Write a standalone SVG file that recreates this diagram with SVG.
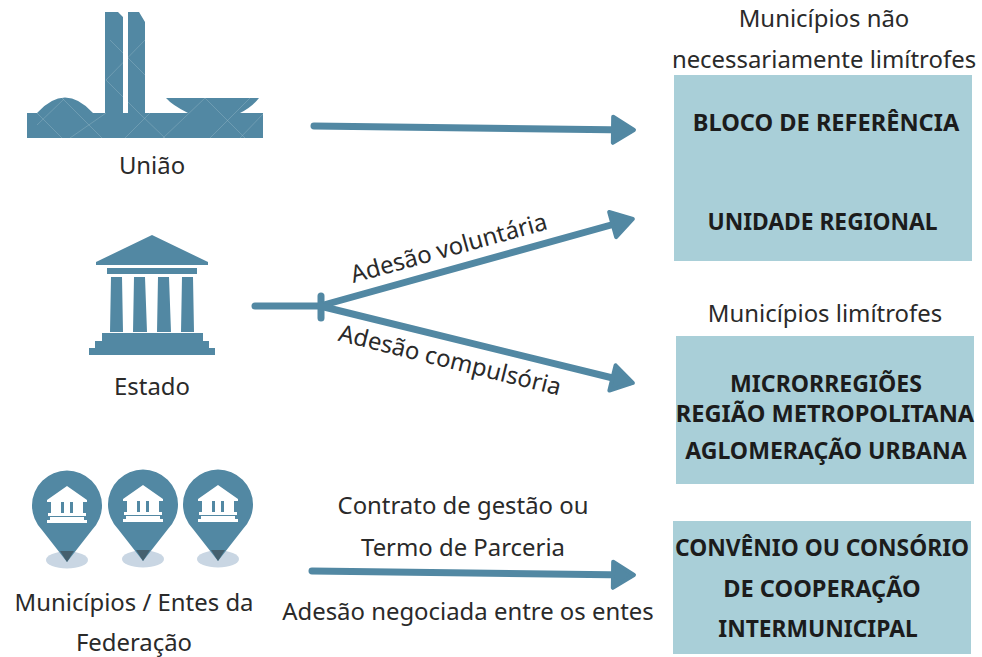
<svg xmlns="http://www.w3.org/2000/svg" width="982" height="657" viewBox="0 0 982 657">
<style>
text{font-family:"Noto Sans","Open Sans",sans-serif;font-size:23.9px;fill:#2a2a2a;text-anchor:middle}
.b{font-weight:700;font-size:23.6px;fill:#1c1c1c}
.s{font-size:22.8px}
.m{font-size:23.1px}
.box{fill:#a9cfd8}
.ic{fill:#5288a3}
.ln{fill:none;stroke:#5288a3;stroke-width:7;stroke-linecap:round}
.wm{fill:none;stroke:#9dbccb;stroke-width:.7;opacity:.55}
</style>
<defs>
<marker id="ah" markerUnits="userSpaceOnUse" markerWidth="30" markerHeight="34" refX="20" refY="17" orient="auto"><path d="M3 4L24 17L3 30Z" fill="#5288a3" stroke="#5288a3" stroke-width="4" stroke-linejoin="round"/></marker>
<clipPath id="uc"><path d="M27 113H37Q65 82 93 113H105V12H118L123 17V113H128V12H139L145 22V113H188Q172 105 166 98H259Q252 107 240 113H263V138H27Z"/></clipPath>
<g id="pin">
<ellipse cx="0" cy="55" rx="21" ry="8.5" fill="#c9d6e3"/>
<path d="M0 57L-25 25A35 35 0 1 1 25 25Z" class="ic"/>
<path d="M-7 46L7 46L0 57Z" fill="#45606e"/>
<path d="M0 -19L20 -5V-3H16V8H19V11H-19V8H-16V-3H-20V-5ZM-6 -3V8H-3V-3ZM3 -3V8H6V-3ZM-17 12H17V15H20V18H-20V15H-17Z" fill="#fff" fill-rule="evenodd"/>
</g>
</defs>
<g id="connectors">
<path class="ln" d="M314 126L630 130" marker-end="url(#ah)"/>
<path class="ln" d="M255 306H320"/>
<path class="ln" d="M321 296V318"/>
<path class="ln" d="M320 306L629 220" marker-end="url(#ah)"/>
<path class="ln" d="M320 306L629 382" marker-end="url(#ah)"/>
<path class="ln" d="M312 571L630 575" marker-end="url(#ah)"/>
</g>
<g id="uniao">
<path class="ic" d="M27 113H37Q65 82 93 113H105V12H118L123 17V113H128V12H139L145 22V113H188Q172 105 166 98H259Q252 107 240 113H263V138H27Z"/>
<path class="wm" clip-path="url(#uc)" d="M37 113L62 138M62 98L102 138M110 40L150 80M106 80L140 114M140 114L165 138M205 98L163 138M205 98L245 138M250 98L210 138M264 113L240 138M145 40L106 80M106 113L70 138M64 99L37 125M150 113L125 138"/>
<text x="152" y="174">União</text>
</g>
<g id="estado">
<path class="ic" d="M152 235L208 262V265H96V262ZM107 268H197V274H107ZM111 277H122L123 332H110ZM134 277H145L147 332H133ZM158 277H169L171 332H157ZM182 277H193L194 332H181ZM102 333H203V341H209V348H215V355H89V348H95V341H102Z"/>
<text x="152" y="395">Estado</text>
</g>
<g id="municipios">
<use href="#pin" x="67" y="505"/>
<use href="#pin" x="143" y="504"/>
<use href="#pin" x="218" y="504"/>
<text x="134" y="611">Municípios / Entes da</text>
<text x="134" y="651">Federação</text>
</g>
<g id="label-voluntaria"><text transform="translate(451 256) rotate(-15.5)">Adesão voluntária</text></g>
<g id="label-compulsoria"><text transform="translate(448 368) rotate(14)">Adesão compulsória</text></g>
<g id="label-contrato">
<text x="463" y="514">Contrato de gestão ou</text>
<text x="463" y="556">Termo de Parceria</text>
<text x="468" y="620">Adesão negociada entre os entes</text>
</g>
<g id="bloco">
<text x="824" y="27">Municípios não</text>
<text x="824" y="68">necessariamente limítrofes</text>
<rect class="box" x="674" y="75" width="298" height="186"/>
<text class="b" x="826" y="131">BLOCO DE REFERÊNCIA</text>
<text class="b s" x="822.5" y="230">UNIDADE REGIONAL</text>
</g>
<g id="micro">
<text x="825" y="322">Municípios limítrofes</text>
<rect class="box" x="676" y="336" width="298" height="148"/>
<text class="b m" x="826" y="392">MICRORREGIÕES</text>
<text class="b" x="825" y="422">REGIÃO METROPOLITANA</text>
<text class="b m" x="826" y="459">AGLOMERAÇÃO URBANA</text>
</g>
<g id="convenio">
<rect class="box" x="673" y="521" width="298" height="133"/>
<text class="b s" x="822" y="556">CONVÊNIO OU CONSÓRIO</text>
<text class="b" x="822" y="597">DE COOPERAÇÃO</text>
<text class="b s" x="818" y="637">INTERMUNICIPAL</text>
</g>
</svg>
